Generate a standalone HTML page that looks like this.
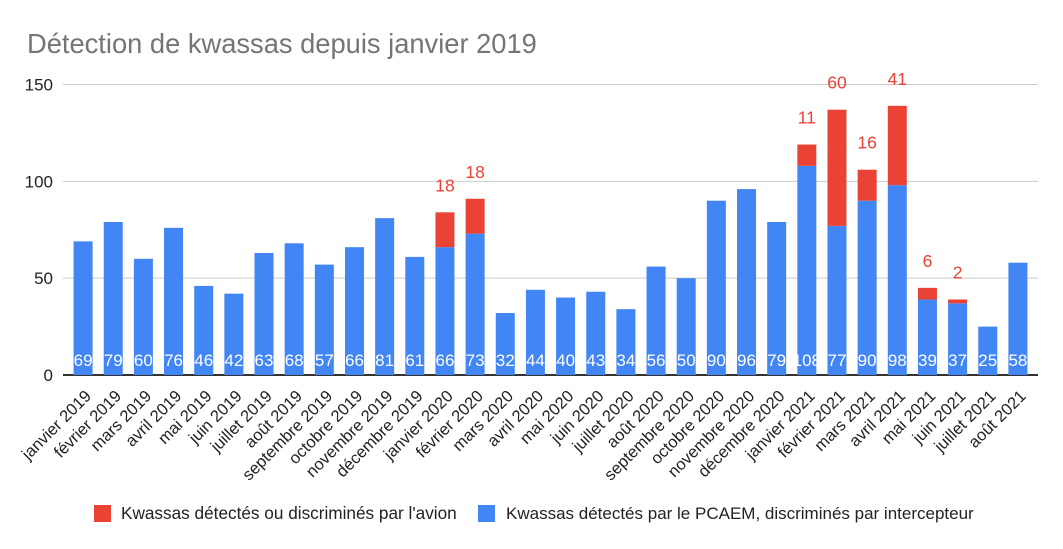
<!DOCTYPE html>
<html><head><meta charset="utf-8"><style>
html,body{margin:0;padding:0;background:#fff;}
svg{display:block;font-family:"Liberation Sans",Arial,sans-serif;}
</style></head><body>
<svg id="chart" width="1063" height="549" viewBox="0 0 1063 549">
<text x="27" y="53" font-size="27.3" fill="#757575">Détection de kwassas depuis janvier 2019</text>
<g id="grid"></g><g id="bars"></g><g id="xlabels"></g>
<g>
<rect x="94" y="505" width="17" height="17" fill="#ea4335"/>
<text x="121" y="519" font-size="17.2" fill="#222">Kwassas détectés ou discriminés par l'avion</text>
<rect x="478" y="505" width="17" height="17" fill="#4285f4"/>
<text x="506" y="519" font-size="17" fill="#222">Kwassas détectés par le PCAEM, discriminés par intercepteur</text>
</g>
</svg>
<script>
const categories=["janvier 2019","février 2019","mars 2019","avril 2019","mai 2019","juin 2019","juillet 2019","août 2019","septembre 2019","octobre 2019","novembre 2019","décembre 2019","janvier 2020","février 2020","mars 2020","avril 2020","mai 2020","juin 2020","juillet 2020","août 2020","septembre 2020","octobre 2020","novembre 2020","décembre 2020","janvier 2021","février 2021","mars 2021","avril 2021","mai 2021","juin 2021","juillet 2021","août 2021"];
const blueValues=[69,79,60,76,46,42,63,68,57,66,81,61,66,73,32,44,40,43,34,56,50,90,96,79,108,77,90,98,39,37,25,58];
const redValues=[0,0,0,0,0,0,0,0,0,0,0,0,18,18,0,0,0,0,0,0,0,0,0,0,11,60,16,41,6,2,0,0];
const yTicks=[0,50,100,150];
const NS="http://www.w3.org/2000/svg";
const X0=68,X1=1033,Y0=375,Y150=84.5;
const band=(X1-X0)/categories.length, bw=19;
function xc(i){return X0+band*(i+0.5);}
function y(v){return Y0-(Y0-Y150)*v/150;}
function mk(t,a,p){const e=document.createElementNS(NS,t);for(const k in a)e.setAttribute(k,a[k]);p.appendChild(e);return e;}
const grid=document.getElementById('grid'),bars=document.getElementById('bars'),xl=document.getElementById('xlabels');
yTicks.forEach(t=>{
 const l=mk('line',{x1:63,x2:1038,y1:y(t),y2:y(t),stroke:t===0?'#333':'#ccc','stroke-width':t===0?2:1},grid);
 
 
 const tx=mk('text',{x:53,y:y(t)+6,'text-anchor':'end','font-size':17,fill:'#222'},grid);
 tx.textContent=t;
 
 
});
categories.forEach((c,i)=>{
 const cx=xc(i),b=blueValues[i],r=redValues[i];
 const rb=mk('rect',{x:cx-bw/2,y:y(b),width:bw,height:Y0-y(b),fill:'#4285f4'},bars);
 
 
 const bl=mk('text',{x:cx,y:366,'text-anchor':'middle','font-size':17,fill:'#fff'},bars);
 bl.textContent=b;
 
 
 if(r>0){
  const rr=mk('rect',{x:cx-bw/2,y:y(b+r),width:bw,height:y(b)-y(b+r),fill:'#ea4335'},bars);
  
  
  const lt=mk('text',{x:cx,y:y(b+r)-21,'text-anchor':'middle','font-size':17.5,fill:'#ea4335'},bars);
  lt.textContent=r;
  
  
 }
 const ax=cx+9,ay=397;
 const t=mk('text',{x:ax,y:ay,'text-anchor':'end','font-size':16.5,fill:'#222',transform:`rotate(-45 ${ax} ${ay})`},xl);
 t.textContent=c;
 
 
});
</script>
</body></html>
